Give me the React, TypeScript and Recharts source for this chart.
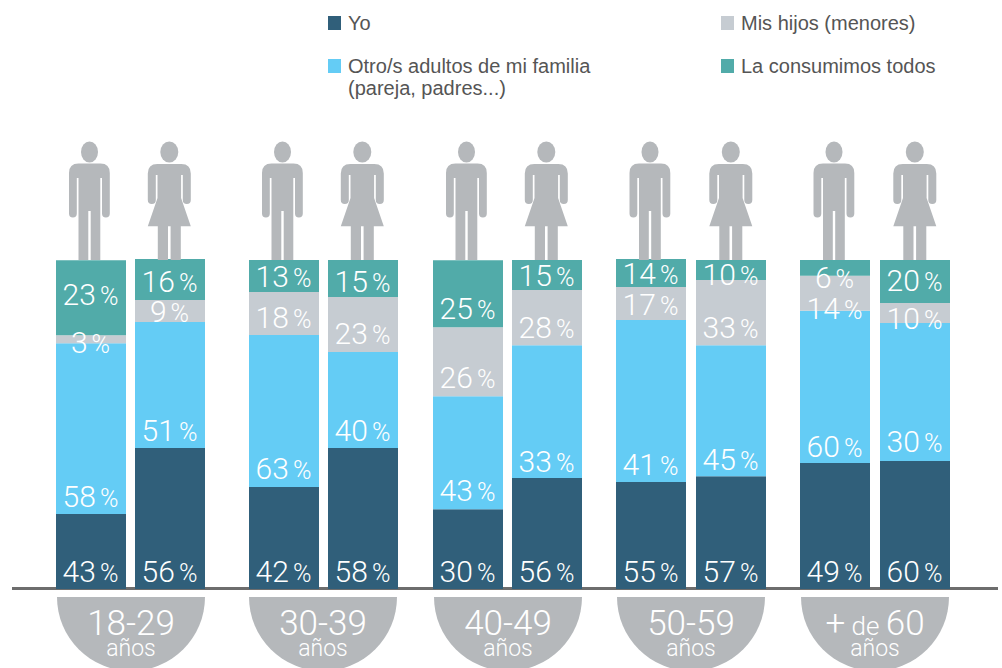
import { BarChart, Bar, XAxis, YAxis, LabelList } from 'recharts';

const ageGroups = ['18-29', '30-39', '40-49', '50-59', '+ de 60'];
const sexes = ['Hombre', 'Mujer'];

// segment sizes as drawn, share of the column (they do not follow the printed labels)
const yoShare = [22.7, 42.7, 30.9, 42.7, 24.2, 33.6, 32.4, 34.2, 38.2, 38.8];
const otrosShare = [51.8, 38.2, 46.1, 29.1, 34.2, 40.3, 49.1, 39.7, 46.1, 41.8];
const hijosShare = [2.4, 6.7, 13.0, 16.7, 20.9, 16.7, 10.0, 19.7, 10.6, 6.1];
const todosShare = [22.7, 12.4, 9.7, 11.2, 20.3, 9.1, 8.5, 6.1, 4.8, 13.0];

// printed percentages
const yoLabel = [43, 56, 42, 58, 30, 56, 55, 57, 49, 60];
const otrosLabel = [58, 51, 63, 40, 43, 33, 41, 45, 60, 30];
const hijosLabel = [3, 9, 18, 23, 26, 28, 17, 33, 14, 10];
const todosLabel = [23, 16, 13, 15, 25, 15, 14, 10, 6, 20];

const COLORS = { yo: '#305f7a', otros: '#64ccf5', hijos: '#c6ccd2', todos: '#51aba9' };
const FIGURE = '#b5b8bb';
const LIGHT = 'Roboto, sans-serif';

// how far above the bottom of its segment each label sits
const otrosLift = [18, 18, 19, 18, 19, 17, 18, 17, 17, 20];
const hijosLift = [1, 11, 18, 19, 19, 18, 16, 18, 3, 5];
const todosLift = [41, 19, 16, 16, 19, 15, 14, 6, -1, 23];

const GROUP_LEFT = [56, 249, 433, 616, 800];
const GROUP_PITCH = [79, 79, 79, 80, 80];
const BADGE_LEFT = [57, 249, 434, 617, 801];
const BAR_W = 70;

const MAN =
  'M-11,-96.5H11Q20.3,-96.5 20.3,-87V-46.5A3.9,3.9 0 0 1 12.5,-46.5V-82H10.8V0H1.2V-49H-1.2V0H-11V-82H-12.7V-46.5A3.9,3.9 0 0 1 -20.5,-46.5V-87Q-20.5,-96.5 -11,-96.5Z';
const WOMAN =
  'M-12,-96H12Q21.5,-96 21.5,-86.5V-60A4,4 0 0 1 13.5,-60V-85H11.8V-62L21.5,-33.7H11.5V0H1.3V-33.7H-1.3V0H-11.5V-33.7H-21.5L-11.8,-62V-85H-13.5V-60A4,4 0 0 1 -21.5,-60V-86.5Q-21.5,-96 -12,-96Z';

function Figure({ x, y, payload }: any) {
  const man = payload.value === 'Hombre';
  return (
    <g transform={`translate(${x + (man ? -1 : -0.2)},${y + 1})`} fill={FIGURE}>
      <ellipse cx={0} cy={-108} rx={man ? 8.5 : 9} ry={10.6} />
      <path d={man ? MAN : WOMAN} />
    </g>
  );
}

const pctLabel = (lifts: number[] | number, offset: number) => (props: any) => {
  const { x, y, width, height, value, index } = props;
  const lift = typeof lifts === 'number' ? lifts : lifts[offset + index];
  return (
    <text
      x={x + width / 2 - 0.5}
      y={y + height - lift + 11}
      textAnchor="middle"
      fill="#fff"
      fontFamily={LIGHT}
      fontWeight={300}
      fontSize={30}
    >
      {value}
      <tspan fontSize={25} dx={4}>
        %
      </tspan>
    </text>
  );
};

function AgeBadge({ left, label }: { left: number; label: string }) {
  const isOld = label.startsWith('+');
  return (
    <svg style={{ position: 'absolute', left, top: 597 }} width={148} height={71}>
      <path d="M0,0H148A74,74 0 0 1 0,0Z" fill={FIGURE} />
      <text x={74} y={38} textAnchor="middle" fill="#fff" fontFamily={LIGHT} fontWeight={300} fontSize={35}>
        {isOld ? (
          <>
            +<tspan fontSize={26}> de </tspan>60
          </>
        ) : (
          label
        )}
      </text>
      <text x={74} y={59} textAnchor="middle" fill="#fff" fontFamily={LIGHT} fontWeight={300} fontSize={23}>
        años
      </text>
    </svg>
  );
}

function AgeChart({ g }: { g: number }) {
  const data = sexes.map((sex, s) => {
    const i = g * 2 + s;
    return {
      sex,
      yo: yoShare[i],
      otros: otrosShare[i],
      hijos: hijosShare[i],
      todos: todosShare[i],
      yoLabel: yoLabel[i],
      otrosLabel: otrosLabel[i],
      hijosLabel: hijosLabel[i],
      todosLabel: todosLabel[i],
    };
  });
  const pitch = GROUP_PITCH[g];
  const offset = g * 2;
  return (
    <div style={{ position: 'absolute', left: GROUP_LEFT[g] - Math.ceil((pitch - BAR_W) / 2), top: 130 }}>
      <BarChart width={pitch * 2} height={459} data={data} margin={{ top: 0, right: 0, bottom: 0, left: 0 }} barSize={BAR_W}>
        <XAxis
          dataKey="sex"
          orientation="top"
          height={129}
          axisLine={false}
          tickLine={false}
          tickSize={0}
          tickMargin={0}
          interval={0}
          tick={Figure}
        />
        <YAxis hide domain={[0, 100]} />
        <Bar dataKey="yo" stackId="a" fill={COLORS.yo} isAnimationActive={false}>
          <LabelList dataKey="yoLabel" content={pctLabel(18, offset)} />
        </Bar>
        <Bar dataKey="otros" stackId="a" fill={COLORS.otros} isAnimationActive={false}>
          <LabelList dataKey="otrosLabel" content={pctLabel(otrosLift, offset)} />
        </Bar>
        <Bar dataKey="hijos" stackId="a" fill={COLORS.hijos} isAnimationActive={false}>
          <LabelList dataKey="hijosLabel" content={pctLabel(hijosLift, offset)} />
        </Bar>
        <Bar dataKey="todos" stackId="a" fill={COLORS.todos} isAnimationActive={false}>
          <LabelList dataKey="todosLabel" content={pctLabel(todosLift, offset)} />
        </Bar>
      </BarChart>
    </div>
  );
}

function LegendItem({ left, top, color, lines }: { left: number; top: number; color: string; lines: string[] }) {
  return (
    <div style={{ position: 'absolute', left, top, fontFamily: '"Liberation Sans", sans-serif', fontSize: 20, lineHeight: '22px', color: '#555' }}>
      <span style={{ position: 'absolute', left: 0, top: 4, width: 13, height: 14, background: color }} />
      {lines.map((t) => (
        <div key={t} style={{ marginLeft: 20, whiteSpace: 'nowrap' }}>
          {t}
        </div>
      ))}
    </div>
  );
}

export default function App() {
  return (
    <div style={{ position: 'absolute', left: 0, top: 0, width: 1002, height: 668, overflow: 'hidden', background: '#fff' }}>
      <LegendItem left={328} top={12} color={COLORS.yo} lines={['Yo']} />
      <LegendItem left={721} top={12} color={COLORS.hijos} lines={['Mis hijos (menores)']} />
      <LegendItem left={328} top={55} color={COLORS.otros} lines={['Otro/s adultos de mi familia', '(pareja, padres...)']} />
      <LegendItem left={721} top={55} color={COLORS.todos} lines={['La consumimos todos']} />
      <div style={{ position: 'absolute', left: 12, top: 587, width: 986, height: 3, background: '#6d6d6d' }} />
      {ageGroups.map((label, g) => (
        <AgeChart key={label} g={g} />
      ))}
      {ageGroups.map((label, g) => (
        <AgeBadge key={label} left={BADGE_LEFT[g]} label={label} />
      ))}
    </div>
  );
}
